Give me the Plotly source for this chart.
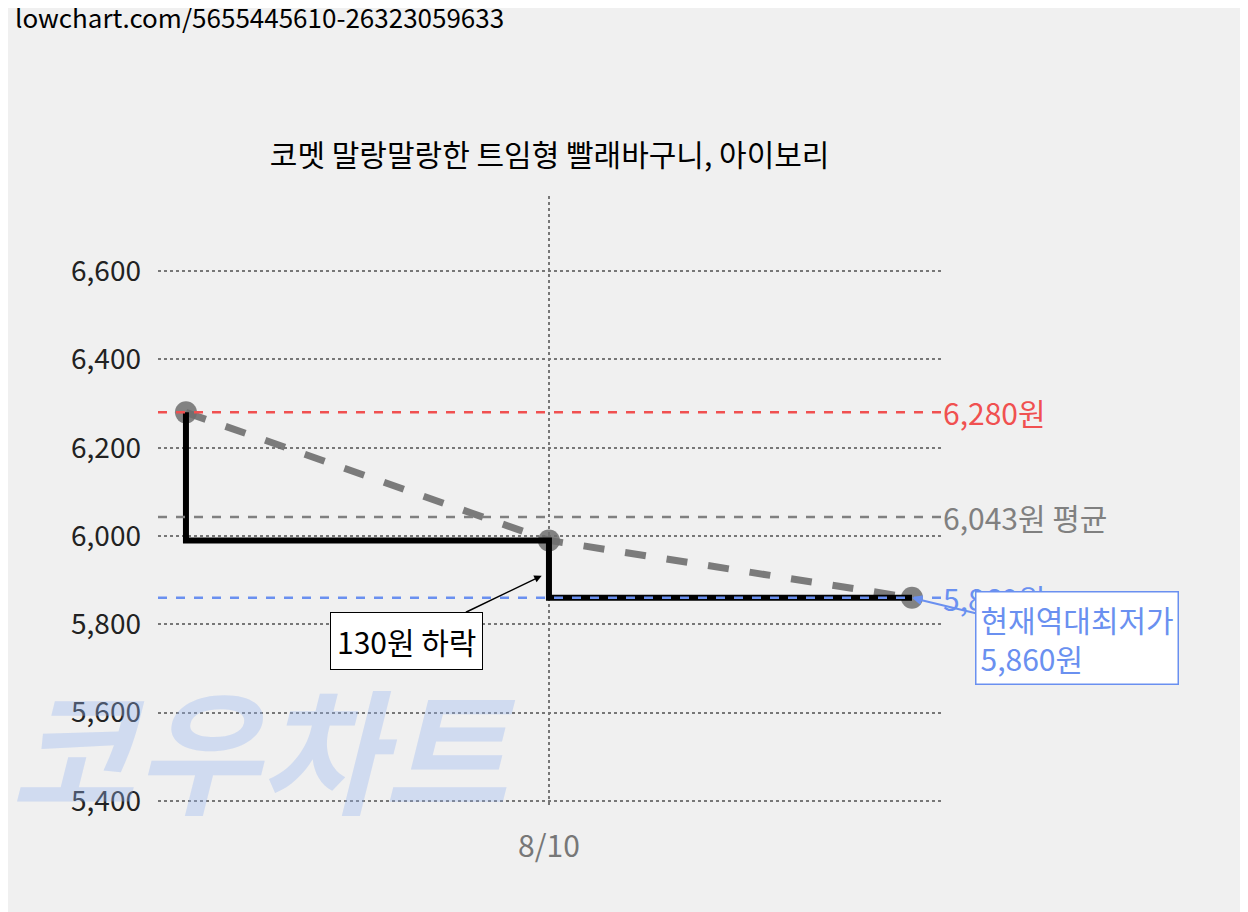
import plotly.graph_objects as go

x_pos = [0, 1, 2]
prices = [6280, 5990, 5860]
tick_vals = [1]
tick_text = ["8/10"]
y_ticks = [5400, 5600, 5800, 6000, 6200, 6400, 6600]
max_price = 6280
avg_price = 6043
min_price = 5860
drop = 130

FONT = "Noto Sans CJK KR, Roboto, sans-serif"

fig = go.Figure()
fig.add_annotation(xref="paper", yref="paper", x=-0.19, y=-0.06, text="<b><i>코우차트</i></b>",
                   showarrow=False, xanchor="left", yanchor="bottom",
                   font=dict(size=135, color="rgba(150,180,240,0.35)"))
fig.add_trace(go.Scatter(x=x_pos, y=prices, mode="lines+markers",
                         line=dict(color="rgba(110,110,110,0.9)", width=7, dash="dash"),
                         marker=dict(size=22, color="rgba(110,110,110,0.85)"),
                         hoverinfo="skip"))
fig.add_trace(go.Scatter(x=x_pos, y=prices, mode="lines", line_shape="vh",
                         line=dict(color="black", width=6), hoverinfo="skip"))

for val, col in [(max_price, "#f05050"), (avg_price, "#808080"), (min_price, "#6a90f0")]:
    fig.add_shape(type="line", xref="paper", x0=0, x1=1, y0=val, y1=val,
                  line=dict(color=col, width=2.5, dash="dash"))

fig.add_annotation(xref="paper", x=1.0, y=max_price, text=f"{max_price:,}원", showarrow=False,
                   xanchor="left", font=dict(size=30, color="#f05050"))
fig.add_annotation(xref="paper", x=1.0, y=avg_price, text=f"{avg_price:,}원 평균", showarrow=False,
                   xanchor="left", font=dict(size=30, color="#808080"))
fig.add_annotation(xref="paper", x=1.0, y=min_price, text=f"{min_price:,}원", showarrow=False,
                   xanchor="left", font=dict(size=30, color="#6a90f0"))
fig.add_annotation(x=2, y=min_price, text=f"현재역대최저가<br>{min_price:,}원", showarrow=True,
                   arrowhead=2, arrowcolor="#6a90f0", arrowwidth=2, ax=165, ay=40,
                   align="left", bgcolor="white", bordercolor="#6a90f0", borderwidth=1.5,
                   borderpad=4, font=dict(size=30, color="#6a90f0"))
fig.add_annotation(x=0.98, y=5910, text=f"{drop}원 하락",
                   showarrow=True, arrowhead=2, arrowcolor="black", arrowwidth=1.5,
                   ax=-135, ay=65, bgcolor="white", bordercolor="black", borderwidth=1,
                   borderpad=6, font=dict(size=30, color="black"))
fig.add_annotation(xref="paper", yref="paper", x=-0.185, y=1.26, text="lowchart.com/5655445610-26323059633",
                   showarrow=False, xanchor="left", yanchor="bottom",
                   font=dict(size=26, color="black"))

fig.update_layout(
    width=1248, height=912,
    paper_bgcolor="#f0f0f0", plot_bgcolor="#f0f0f0",
    margin=dict(l=150, r=315, t=188, b=112),
    showlegend=False,
    font=dict(family=FONT),
    title=dict(text="코멧 말랑말랑한 트임형 빨래바구니, 아이보리", x=0.434, xanchor="center",
               y=0.85, font=dict(size=30, color="black")),
    xaxis=dict(range=[-0.077, 2.08], tickvals=tick_vals, ticktext=tick_text, showgrid=True,
               griddash="dot", gridcolor="#777", gridwidth=2, zeroline=False,
               tickfont=dict(size=30, color="#777"), ticks="", ticklabelstandoff=18),
    yaxis=dict(range=[5384, 6770], tickvals=y_ticks, tickformat=",", showgrid=True,
               griddash="dot", gridcolor="#777", gridwidth=2, zeroline=False,
               tickfont=dict(size=28, color="#222"), ticks="", ticklabelstandoff=16),
)
fig.write_html("out.html")
